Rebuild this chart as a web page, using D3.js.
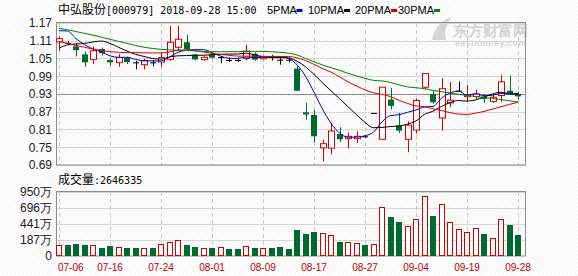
<!DOCTYPE html>
<html>
<head>
<meta charset="utf-8">
<script src="https://cdn.jsdelivr.net/npm/d3@7"></script>
<style>
  body { margin: 0; background: #fff; }
  svg text { font-family: "Liberation Sans", Arial, sans-serif; }
</style>
</head>
<body>
<svg id="chart" width="578" height="276"></svg>
<script>
// trading days shown (55 candles)
var dates = ["07-06","07-09","07-10","07-11","07-12","07-13","07-16","07-17","07-18","07-19",
  "07-20","07-23","07-24","07-25","07-26","07-27","07-30","07-31","08-01","08-02",
  "08-03","08-06","08-07","08-08","08-09","08-10","08-13","08-14","08-15","08-16",
  "08-17","08-20","08-21","08-22","08-23","08-24","08-27","08-28","08-29","08-30",
  "08-31","09-03","09-04","09-05","09-06","09-07","09-17","09-18","09-19","09-20",
  "09-21","09-25","09-26","09-27","09-28"];

var open = [1.106,1.103,1.091,1.064,1.047,1.082,1.045,1.037,1.052,1.037,
  1.029,1.037,1.038,1.047,1.088,1.105,1.063,1.046,1.062,1.055,
  1.045,1.045,1.050,1.066,1.049,1.055,1.046,1.046,1.016,0.868,
  0.859,0.748,0.747,0.795,0.779,0.779,0.787,0.866,0.777,0.911,
  0.824,0.777,0.808,0.953,0.930,0.849,0.900,0.941,0.921,0.921,
  0.921,0.905,0.925,0.941,0.930];
var high = [1.125,1.110,1.102,1.073,1.091,1.087,1.050,1.065,1.056,1.042,
  1.049,1.045,1.070,1.160,1.160,1.129,1.066,1.057,1.066,1.057,
  1.053,1.053,1.097,1.070,1.060,1.062,1.054,1.053,1.025,0.900,
  0.876,0.775,0.833,0.818,0.800,0.804,0.790,0.866,0.953,0.950,
  0.866,0.838,0.915,0.999,0.940,0.983,0.970,0.972,0.960,0.945,
  0.930,0.928,0.994,0.993,0.938];
var low = [1.076,1.095,1.057,1.022,1.031,1.060,1.025,1.022,1.031,1.013,
  1.013,1.024,1.022,1.042,1.078,1.075,1.044,1.043,1.050,1.034,
  1.038,1.038,1.044,1.043,1.047,1.043,1.029,1.036,0.941,0.843,
  0.766,0.702,0.726,0.768,0.746,0.764,0.783,0.866,0.777,0.878,
  0.798,0.733,0.796,0.946,0.897,0.806,0.886,0.937,0.906,0.911,
  0.900,0.900,0.903,0.930,0.911];
var close = [1.117,1.103,1.078,1.037,1.076,1.068,1.037,1.053,1.038,1.037,
  1.043,1.037,1.053,1.105,1.115,1.081,1.047,1.054,1.053,1.055,
  1.045,1.045,1.075,1.046,1.057,1.055,1.046,1.046,0.941,0.861,
  0.787,0.762,0.805,0.777,0.787,0.787,0.787,0.866,0.953,0.890,
  0.806,0.825,0.908,0.999,0.902,0.948,0.909,0.941,0.928,0.930,
  0.913,0.919,0.971,0.932,0.922];

// volume in 万 shares
var volume = [108,108,124,108,108,55,92,76,60,60,
  60,60,124,160,182,108,76,60,60,76,
  44,44,92,60,60,60,81,44,346,283,
  314,299,267,156,156,140,108,124,707,553,
  473,410,521,886,569,755,473,362,314,378,
  283,219,521,426,265];

// moving averages
var ma5 = [1.144,1.143,1.117,1.097,1.082,1.072,1.059,1.054,1.054,1.047,
  1.042,1.042,1.042,1.055,1.071,1.078,1.080,1.080,1.070,1.058,
  1.051,1.050,1.055,1.053,1.054,1.056,1.056,1.050,1.029,0.990,
  0.936,0.879,0.831,0.798,0.784,0.784,0.789,0.801,0.836,0.857,
  0.860,0.868,0.876,0.886,0.888,0.916,0.933,0.940,0.926,0.931,
  0.924,0.926,0.932,0.933,0.931];
var ma10 = [1.085,1.096,1.099,1.101,1.106,1.109,1.101,1.088,1.075,1.064,
  1.057,1.050,1.048,1.055,1.059,1.060,1.061,1.061,1.063,1.064,
  1.065,1.065,1.068,1.062,1.056,1.053,1.053,1.052,1.041,1.022,
  0.996,0.968,0.941,0.914,0.887,0.860,0.834,0.816,0.817,0.820,
  0.822,0.828,0.839,0.861,0.872,0.888,0.901,0.908,0.906,0.910,
  0.920,0.930,0.936,0.929,0.931];
var ma20 = [1.108,1.101,1.094,1.088,1.082,1.077,1.073,1.071,1.070,1.070,
  1.069,1.069,1.069,1.072,1.078,1.079,1.076,1.072,1.067,1.064,
  1.061,1.058,1.058,1.058,1.057,1.057,1.057,1.057,1.052,1.043,
  1.030,1.016,1.004,0.988,0.971,0.957,0.944,0.934,0.929,0.921,
  0.909,0.898,0.890,0.887,0.880,0.874,0.867,0.862,0.861,0.865,
  0.871,0.879,0.887,0.895,0.902];
var ma30 = [1.152,1.147,1.141,1.135,1.129,1.122,1.115,1.108,1.101,1.094,
  1.088,1.084,1.081,1.079,1.078,1.077,1.076,1.074,1.073,1.073,
  1.073,1.073,1.074,1.074,1.074,1.073,1.071,1.068,1.062,1.050,
  1.039,1.028,1.019,1.010,1.000,0.991,0.983,0.976,0.974,0.969,
  0.961,0.954,0.951,0.948,0.942,0.938,0.933,0.929,0.925,0.922,
  0.918,0.915,0.911,0.907,0.903];

var priceTicks = [1.17,1.11,1.05,0.99,0.93,0.87,0.81,0.75,0.69];
var volTicks = [950,696,441,187];
var volTickLabels = ["950万","696万","441万","187万"];
var volBottom = -67;   // axis bottom (labelled 0)
var dateTicks = ["07-06","07-16","07-24","08-01","08-09","08-17","08-27","09-04","09-19","09-28"];
var maNames = ["5PMA","10PMA","20PMA","30PMA"];
var maColors = ["#0000cc","#000000","#dd0000","#008000"];
var stockName = "中弘股份";
var stockInfo = "[000979] 2018-09-28 15:00";
var lastVolume = "2646335";

var RED = "#d40000", GREEN = "#006a2e";

var svg = d3.select("#chart");

// faint diagonal background texture
var defs = svg.append("defs");
var pat = defs.append("pattern").attr("id", "hatch").attr("width", 4).attr("height", 4)
  .attr("patternUnits", "userSpaceOnUse");
pat.append("rect").attr("width", 4).attr("height", 4).attr("fill", "#fff");
pat.append("path").attr("d", "M0,4 L4,0").attr("stroke", "#f1f1f1").attr("stroke-width", 1);
svg.append("rect").attr("width", 578).attr("height", 276).attr("fill", "url(#hatch)");

var left = 56, right = 525;
var pTop = 23, pBot = 165, vTop = 192, vBot = 256;

var x = d3.scalePoint().domain(dates).range([59, 518]);
var y = d3.scaleLinear().domain([0.69, 1.17]).range([pBot, pTop]);
var yv = d3.scaleLinear().domain([volBottom, 950]).range([vBot, vTop]);

function px(d) { return Math.round(x(d)); }

// watermark
var wm = svg.append("g").attr("fill", "#d4d4d4");
wm.append("text").attr("x", 453).attr("y", 36).attr("font-size", 15).attr("font-weight", "bold")
  .attr("font-family", "Noto Sans CJK SC").text("东方财富网");
wm.append("text").attr("x", 455).attr("y", 46).attr("font-size", 8.5).attr("font-weight", "bold")
  .attr("font-family", "DejaVu Sans").attr("letter-spacing", 0.6).text("eastmoney.com");
wm.append("path").attr("d", "M432,40 C434,28 442,20 452,17 C446,24 444,31 446,40 Z");

// grids
var gP = svg.append("g");
gP.selectAll("line.h").data(priceTicks).enter().append("line")
  .attr("x1", left).attr("x2", right)
  .attr("y1", function(d) { return Math.round(y(d)) + 0.5; })
  .attr("y2", function(d) { return Math.round(y(d)) + 0.5; })
  .attr("stroke", function(d) { return d === 0.93 ? "#8c8c8c" : "#d6d6d6"; });
gP.selectAll("line.v").data(dateTicks).enter().append("line")
  .attr("x1", function(d) { return px(d) + 0.5; }).attr("x2", function(d) { return px(d) + 0.5; })
  .attr("y1", pTop).attr("y2", pBot)
  .attr("stroke", "#c8c8c8").attr("stroke-dasharray", "4,3");

var gV = svg.append("g");
gV.selectAll("line.h").data(volTicks).enter().append("line")
  .attr("x1", left).attr("x2", right)
  .attr("y1", function(d) { return Math.round(yv(d)) + 0.5; })
  .attr("y2", function(d) { return Math.round(yv(d)) + 0.5; })
  .attr("stroke", "#d6d6d6");
gV.selectAll("line.v").data(dateTicks).enter().append("line")
  .attr("x1", function(d) { return px(d) + 0.5; }).attr("x2", function(d) { return px(d) + 0.5; })
  .attr("y1", vTop).attr("y2", vBot)
  .attr("stroke", "#c8c8c8").attr("stroke-dasharray", "4,3");

// panel borders
svg.append("rect").attr("x", left + 0.5).attr("y", pTop - 0.5).attr("width", right - left).attr("height", pBot - pTop + 0.5)
  .attr("fill", "none").attr("stroke", "#8c8c8c");
svg.append("rect").attr("x", left + 0.5).attr("y", vTop - 0.5).attr("width", right - left).attr("height", vBot - vTop + 0.5)
  .attr("fill", "none").attr("stroke", "#8c8c8c");

// y labels
svg.append("g").selectAll("text").data(priceTicks).enter().append("text")
  .attr("x", 52).attr("y", function(d) { return y(d); }).attr("dy", "0.36em")
  .attr("text-anchor", "end").attr("font-size", 12).attr("fill", "#222")
  .text(function(d) { return d.toFixed(2); });
svg.append("g").selectAll("text").data(volTicks).enter().append("text")
  .attr("x", 52).attr("y", function(d) { return yv(d); }).attr("dy", "0.36em")
  .attr("text-anchor", "end").attr("font-size", 12).attr("fill", "#222")
  .text(function(d, i) { return volTickLabels[i]; });
svg.append("text").attr("x", 52).attr("y", vBot).attr("dy", "0.36em")
  .attr("text-anchor", "end").attr("font-size", 12).attr("fill", "#222").text("0");

// x labels
svg.append("g").selectAll("text").data(dateTicks).enter().append("text")
  .attr("x", function(d, i) { return i === 0 ? px(d) - 1 : px(d); })
  .attr("y", 271)
  .attr("text-anchor", function(d, i) { return i === 0 ? "start" : "middle"; })
  .attr("font-family", "DejaVu Sans Mono").attr("font-size", 10).attr("fill", "#c00000")
  .text(function(d) { return d; });

// title + legend
var title = svg.append("text").attr("x", 58).attr("y", 14).attr("fill", "#000");
title.append("tspan").attr("font-family", "Noto Sans CJK SC").attr("font-size", 12).text(stockName);
title.append("tspan").attr("font-family", "DejaVu Sans Mono").attr("font-size", 10).text(stockInfo);

var legX = [267, 308, 355, 398];
var lg = svg.append("g").selectAll("g").data(maNames).enter().append("g");
lg.append("text").attr("x", function(d, i) { return legX[i]; }).attr("y", 14)
  .attr("font-family", "DejaVu Sans Mono").attr("font-size", 11).attr("fill", "#000")
  .text(function(d) { return d; });
lg.append("rect").attr("x", function(d, i) { return legX[i] + d.length * 6.62 + 3; }).attr("y", 9)
  .attr("width", 6).attr("height", 3)
  .attr("fill", function(d, i) { return maColors[i]; });

var vl = svg.append("text").attr("x", 58).attr("y", 183.5).attr("fill", "#000");
vl.append("tspan").attr("font-family", "Noto Sans CJK SC").attr("font-size", 12).text("成交量");
vl.append("tspan").attr("font-family", "DejaVu Sans Mono").attr("font-size", 10).text(":" + lastVolume);

// volume bars
function volUp(i) {
  if (close[i] > open[i]) return true;
  if (close[i] < open[i]) return false;
  return i > 0 && close[i] > close[i - 1];
}
svg.append("g").selectAll("rect").data(dates).enter().append("rect")
  .attr("x", function(d, i) { return volUp(i) ? px(d) - 2.5 : px(d) - 3; })
  .attr("width", function(d, i) { return volUp(i) ? 5 : 6; })
  .attr("y", function(d, i) { return Math.round(yv(volume[i])) + (volUp(i) ? 0.5 : 0); })
  .attr("height", function(d, i) { return vBot - Math.round(yv(volume[i])) - (volUp(i) ? 1 : 0); })
  .attr("fill", function(d, i) { return volUp(i) ? "#fff" : GREEN; })
  .attr("stroke", function(d, i) { return volUp(i) ? RED : "none"; });

// candles
var cg = svg.append("g").selectAll("g").data(dates).enter().append("g");
function cColor(i) { return close[i] > open[i] ? RED : (close[i] < open[i] ? GREEN : "#000"); }
cg.append("line")
  .attr("x1", function(d) { return px(d) + 0.5; }).attr("x2", function(d) { return px(d) + 0.5; })
  .attr("y1", function(d, i) { return y(high[i]); }).attr("y2", function(d, i) { return y(low[i]); })
  .attr("stroke", function(d, i) { return cColor(i); });
cg.append("rect")
  .attr("x", function(d) { return px(d) - 2.5; })
  .attr("width", 6)
  .attr("y", function(d, i) { return y(Math.max(open[i], close[i])); })
  .attr("height", function(d, i) { return Math.max(1, y(Math.min(open[i], close[i])) - y(Math.max(open[i], close[i]))); })
  .attr("fill", function(d, i) { return close[i] > open[i] ? "#fff" : cColor(i); })
  .attr("stroke", function(d, i) { return close[i] > open[i] ? RED : "none"; })
  .attr("transform", function(d, i) { return close[i] > open[i] ? null : "translate(-0.5,0)"; });

// moving averages
var maSeries = [ma5, ma10, ma20, ma30];
var line = d3.line().x(function(d, i) { return x(dates[i]); }).y(function(d) { return y(d); })
  .curve(d3.curveMonotoneX);
svg.append("g").selectAll("path").data(maSeries).enter().append("path")
  .attr("d", function(d) { return line(d); })
  .attr("fill", "none").attr("stroke-width", 1)
  .attr("stroke", function(d, i) { return maColors[i]; });
</script>
</body>
</html>
